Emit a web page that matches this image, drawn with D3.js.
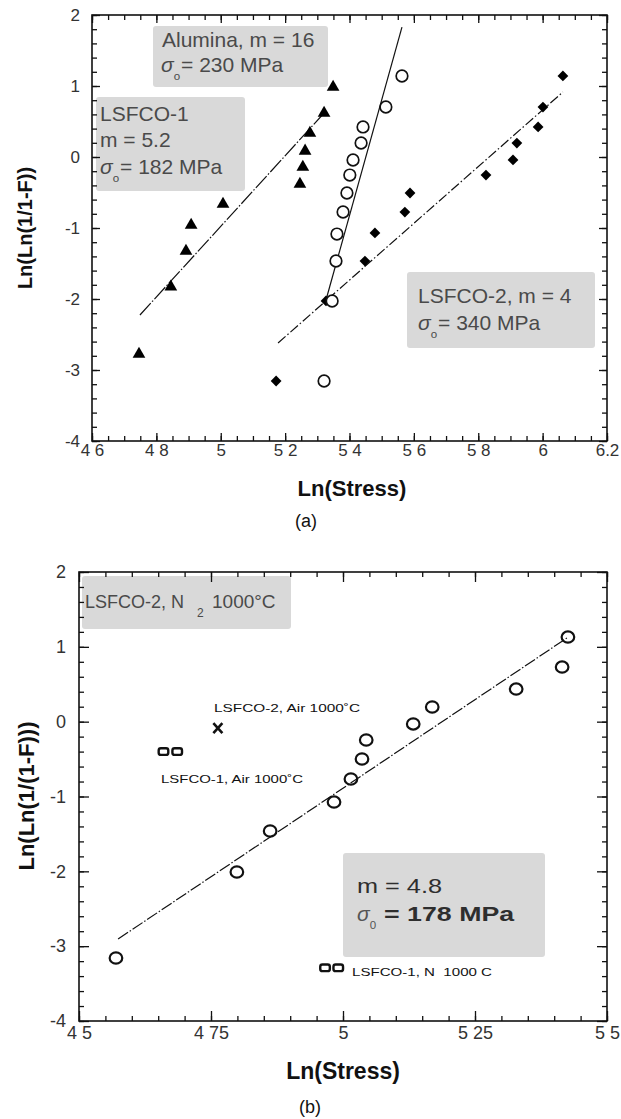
<!DOCTYPE html>
<html><head><meta charset="utf-8">
<script src="https://cdn.jsdelivr.net/npm/d3@7"></script>
<style>
html,body{margin:0;padding:0;background:#fff;}
svg text{font-family:"Liberation Sans",Arial,sans-serif;}
</style></head>
<body><svg id="c" width="621" height="1119"></svg>
<script>
// ---------- DATA (a) ----------
const lsfco1X = [4.746, 4.845, 4.892, 4.908, 5.007, 5.246, 5.255, 5.262, 5.277, 5.321, 5.349];
const lsfco1Y = [-2.775, -1.83, -1.324, -0.958, -0.662, -0.38, -0.141, 0.085, 0.338, 0.62, 0.986];
const alumX = [5.321, 5.346, 5.358, 5.361, 5.380, 5.392, 5.401, 5.411, 5.436, 5.442, 5.513, 5.563];
const alumY = [-3.155, -2.028, -1.465, -1.085, -0.775, -0.507, -0.254, -0.042, 0.197, 0.423, 0.704, 1.141];
const lsfco2X = [5.172, 5.327, 5.448, 5.479, 5.572, 5.588, 5.824, 5.908, 5.920, 5.986, 6.001, 6.063];
const lsfco2Y = [-3.155, -2.028, -1.465, -1.07, -0.775, -0.507, -0.254, -0.042, 0.197, 0.423, 0.704, 1.141];
const lsfco1FitX = [4.749, 5.324], lsfco1FitY = [-2.225, 0.634];
const alumFitX = [5.327, 5.563], alumFitY = [-2.014, 1.83];
const lsfco2FitX = [5.178, 6.063], lsfco2FitY = [-2.62, 0.915];
const xTicksA = [4.6, 4.8, 5.0, 5.2, 5.4, 5.6, 5.8, 6.0, 6.2];
const xLabelsA = ["4 6", "4 8", "5", "5 2", "5 4", "5 6", "5 8", "6", "6.2"];
const yTicks = [2, 1, 0, -1, -2, -3, -4];
const yLabels = ["2", "1", "0", "-1", "-2", "-3", "-4"];
// ---------- DATA (b) ----------
const n2X = [4.570, 4.799, 4.862, 4.983, 5.015, 5.036, 5.044, 5.133, 5.169, 5.328, 5.415, 5.426];
const n2Y = [-3.158, -2.009, -1.461, -1.074, -0.766, -0.499, -0.245, -0.031, 0.196, 0.436, 0.730, 1.131];
const n2FitX = [4.574, 5.424], n2FitY = [-2.905, 1.118];
const air1X = [4.660, 4.686], air1Y = [-0.40, -0.40];
const air2X = [4.763], air2Y = [-0.085];
const n1X = [4.966, 4.991], n1Y = [-3.29, -3.29];
const xTicksB = [4.5, 4.75, 5.0, 5.25, 5.5];
const xLabelsB = ["4 5", "4 75", "5", "5 25", "5 5"];

const svg = d3.select("#c");
svg.append("rect").attr("width",621).attr("height",1119).attr("fill","#fff");

function range(a,b,s){const r=[];for(let v=a;v<=b+1e-9;v+=s)r.push(+v.toFixed(4));return r;}

function frame(x, y, o){
  const [x0,x1]=x.range(), [y0,y1]=y.range();
  const g = svg.append("g");
  const mk = (axis, tr, vals, size, labels) => {
    const a = axis.tickValues(vals).tickSize(size).tickSizeOuter(0);
    if(labels) a.tickFormat((d,i)=>labels[i]); else a.tickFormat("");
    const ax = g.append("g").attr("transform",tr).call(a);
    ax.select(".domain").remove();
    ax.selectAll("line").attr("stroke","#111").attr("stroke-width",1.3);
    return ax;
  };
  mk(d3.axisBottom(x), `translate(0,${y0})`, o.xMinor, -5);
  const bx = mk(d3.axisBottom(x), `translate(0,${y0})`, o.xTicks, -o.maj, o.xLabels);
  bx.selectAll("text").attr("font-size",o.fs).attr("fill","#333").attr("y",o.xPad).attr("dy",0);
  mk(d3.axisTop(x), `translate(0,${y1})`, o.xMinor, -5);
  mk(d3.axisTop(x), `translate(0,${y1})`, o.xTicks, -o.maj);
  mk(d3.axisLeft(y), `translate(${x0},0)`, range(-4,2,0.2), -5);
  const ly = mk(d3.axisLeft(y), `translate(${x0},0)`, yTicks, -o.maj, yLabels);
  ly.selectAll("text").attr("font-size",o.fs).attr("fill","#333").attr("x",-o.yPad);
  mk(d3.axisRight(y), `translate(${x1},0)`, range(-4,2,0.2), -5);
  mk(d3.axisRight(y), `translate(${x1},0)`, yTicks, -o.maj);
  g.append("rect").attr("x",x0).attr("y",y1).attr("width",x1-x0).attr("height",y0-y1)
    .attr("fill","none").attr("stroke","#111").attr("stroke-width",1.6);
}

function box(x,y,w,h){
  svg.append("rect").attr("x",x).attr("y",y).attr("width",w).attr("height",h).attr("rx",3)
    .attr("fill","#d9d9d9");
}
function txt(x,y,s,fs,opt={}){
  const t = svg.append("text").attr("x",x).attr("y",y).attr("font-size",fs)
    .attr("fill",opt.fill||"#4a4a4a").attr("xml:space","preserve").text(s);
  if(opt.bold) t.attr("font-weight","bold");
  if(opt.italic) t.attr("font-style","italic");
  if(opt.len) t.attr("textLength",opt.len).attr("lengthAdjust","spacingAndGlyphs");
  if(opt.anchor) t.attr("text-anchor",opt.anchor);
  return t;
}
function sig(x,y,sub,rest,fs,opt={}){
  const t = svg.append("text").attr("x",x).attr("y",y).attr("font-size",fs).attr("fill",opt.fill||"#4a4a4a");
  t.append("tspan").attr("font-style","italic").attr("fill",opt.sfill||null).text("σ");
  t.append("tspan").attr("font-size",fs*0.55).attr("dy",fs*0.4).attr("fill",opt.sfill||null).text(sub);
  const r = t.append("tspan").attr("dy",-fs*0.4).attr("dx",opt.gap||2).text(rest);
  if(opt.bold) r.attr("font-weight","bold");
  if(opt.rlen) r.attr("textLength",opt.rlen).attr("lengthAdjust","spacingAndGlyphs");
  return t;
}
const zip=(a,b)=>a.map((v,i)=>[v,b[i]]);

// ================= (a) =================
const xA = d3.scaleLinear([4.6,6.2],[92,607]);
const yA = d3.scaleLinear([-4,2],[441,15]);

box(153,26,175,61);
box(96,97,149,94);
box(407,272,188,76);

frame(xA,yA,{xMinor:range(4.6,6.2,0.05),xTicks:xTicksA,xLabels:xLabelsA,fs:17,maj:8,xPad:15,yPad:12});

const lineA = d3.line().x(d=>xA(d[0])).y(d=>yA(d[1]));
svg.append("path").attr("d",lineA(zip(lsfco1FitX,lsfco1FitY))).attr("fill","none")
  .attr("stroke","#111").attr("stroke-width",1.2).attr("stroke-dasharray","16,2,1.5,2");
svg.append("path").attr("d",lineA(zip(alumFitX,alumFitY))).attr("fill","none")
  .attr("stroke","#111").attr("stroke-width",1.2);
svg.append("path").attr("d",lineA(zip(lsfco2FitX,lsfco2FitY))).attr("fill","none")
  .attr("stroke","#111").attr("stroke-width",1.2).attr("stroke-dasharray","10,2.5,1.5,2.5");

svg.append("g").selectAll("path").data(zip(lsfco1X,lsfco1Y)).join("path")
  .attr("d",d3.symbol(d3.symbolTriangle,70))
  .attr("transform",d=>`translate(${xA(d[0])},${yA(d[1])})`).attr("fill","#000");
svg.append("g").selectAll("path").data(zip(lsfco2X,lsfco2Y)).join("path")
  .attr("d",d3.symbol(d3.symbolSquare,58))
  .attr("transform",d=>`translate(${xA(d[0])},${yA(d[1])}) rotate(45)`).attr("fill","#000");
svg.append("g").selectAll("circle").data(zip(alumX,alumY)).join("circle")
  .attr("cx",d=>xA(d[0])).attr("cy",d=>yA(d[1])).attr("r",5.8)
  .attr("fill","#fff").attr("stroke","#111").attr("stroke-width",1.7);

// annotations (a)
txt(162,47,"Alumina, m = 16",21);
sig(161,72,"o","= 230 MPa",21,{gap:1});
txt(100,121,"LSFCO-1",21);
txt(100,147,"m = 5.2",21);
sig(100,174,"o","= 182 MPa",21,{gap:1});
txt(418,303,"LSFCO-2, m = 4",21);
sig(418,330,"o","= 340 MPa",21,{gap:1});

svg.append("text").attr("transform","translate(32,228) rotate(-90)").attr("text-anchor","middle")
  .attr("font-size",20).attr("font-weight","bold").attr("fill","#111").text("Ln(Ln(1/1-F))");
txt(352,496,"Ln(Stress)",22,{bold:true,anchor:"middle",fill:"#111"});
txt(306,527,"(a)",18,{anchor:"middle",fill:"#111"});

// ================= (b) =================
const xB = d3.scaleLinear([4.5,5.5],[79,607]);
const yB = d3.scaleLinear([-4,2],[1021,572]);

box(82,576,209,53);
box(343,853,202,104);

frame(xB,yB,{xMinor:range(4.5,5.5,0.05),xTicks:xTicksB,xLabels:xLabelsB,fs:18,maj:10,xPad:18,yPad:13});

const lineB = d3.line().x(d=>xB(d[0])).y(d=>yB(d[1]));
svg.append("path").attr("d",lineB(zip(n2FitX,n2FitY))).attr("fill","none")
  .attr("stroke","#111").attr("stroke-width",1.2).attr("stroke-dasharray","12,2,1.5,2");

svg.append("g").selectAll("ellipse").data(zip(n2X,n2Y)).join("ellipse")
  .attr("cx",d=>xB(d[0])).attr("cy",d=>yB(d[1])).attr("rx",6.3).attr("ry",5.6)
  .attr("fill","none").attr("stroke","#111").attr("stroke-width",2.2);

const sq = d => svg.append("g").selectAll("rect").data(d).join("rect")
  .attr("x",p=>xB(p[0])-4.8).attr("y",p=>yB(p[1])-3.3).attr("width",9.6).attr("height",6.6).attr("rx",2.2)
  .attr("fill","none").attr("stroke","#111").attr("stroke-width",2.4);
sq(zip(air1X,air1Y));
sq(zip(n1X,n1Y));
svg.append("g").selectAll("path").data(zip(air2X,air2Y)).join("path")
  .attr("d",d=>{const cx=xB(d[0]),cy=yB(d[1]);return `M${cx-4.5},${cy-5}L${cx+4.5},${cy+5}M${cx+4.5},${cy-5}L${cx-4.5},${cy+5}`;})
  .attr("stroke","#111").attr("stroke-width",2.6).attr("fill","none");

// annotations (b)
{
  const t = svg.append("text").attr("y",608).attr("font-size",18).attr("fill","#4a4a4a");
  t.append("tspan").attr("x",85).text("LSFCO-2, N");
  t.append("tspan").attr("x",197).attr("font-size",12).attr("dy",9).text("2");
  t.append("tspan").attr("x",212).attr("dy",-9).attr("font-size",19).text("1000°C");
}
txt(214,712,"LSFCO-2, Air 1000˚C",11,{fill:"#111",len:146});
txt(161,783,"LSFCO-1, Air 1000˚C",11,{fill:"#111",len:142});
txt(352,976,"LSFCO-1, N\u00a0\u00a01000 C",11,{fill:"#111",len:140});
txt(357,893,"m = 4.8",21,{fill:"#2e2e2e",len:85});
sig(357,921,"0","= 178 MPa",21,{fill:"#2e2e2e",sfill:"#555",bold:true,gap:8,rlen:130});

svg.append("text").attr("transform","translate(34,796) rotate(-90)").attr("text-anchor","middle")
  .attr("font-size",22).attr("font-weight","bold").attr("fill","#111").text("Ln(Ln(1/(1-F)))");
txt(343,1079,"Ln(Stress)",23,{bold:true,anchor:"middle",fill:"#111"});
txt(310,1113,"(b)",18,{anchor:"middle",fill:"#111"});
</script></body></html>
